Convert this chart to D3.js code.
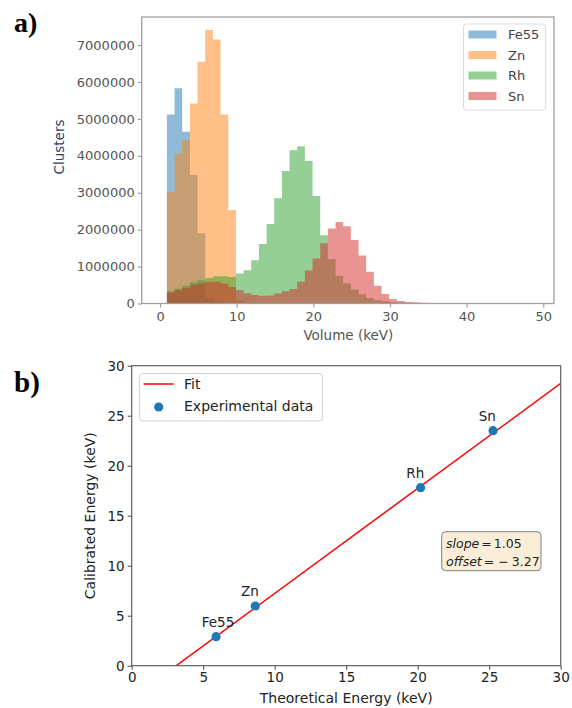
<!DOCTYPE html>
<html>
<head>
<meta charset="utf-8">
<script src="https://cdn.jsdelivr.net/npm/d3@7"></script>
<style>
  body { margin: 0; background: #fff; }
  svg { display: block; font-family: "DejaVu Sans", sans-serif; }
</style>
</head>
<body>
<div id="chart"></div>
<script>
// ---- Panel a) histogram data (clusters per 1 keV bin, bins start at 0.9 keV) ----
const binStart = 0.9;
const binWidth = 1;
const fe55Counts = [5120000, 5830000, 4650000, 3480000, 1900000, 150000, 50000, 20000];
const znCounts = [3020000, 4060000, 4430000, 5420000, 6550000, 7410000, 7150000, 5120000, 2530000, 80000, 30000, 10000];
const rhCounts = [330000, 400000, 480000, 570000, 630000, 690000, 740000, 740000, 720000, 810000,
  900000, 1170000, 1610000, 2150000, 2850000, 3590000, 4150000, 4260000, 3860000, 2910000,
  1850000, 1200000, 750000, 550000, 380000, 250000, 150000, 90000, 60000, 40000,
  30000, 20000, 20000, 10000, 10000, 10000, 10000];
const snCounts = [300000, 360000, 420000, 500000, 540000, 590000, 590000, 540000, 450000, 360000,
  280000, 230000, 210000, 220000, 270000, 330000, 390000, 590000, 900000, 1220000,
  1630000, 2030000, 2210000, 2090000, 1720000, 1300000, 860000, 480000, 260000, 120000,
  70000, 40000, 30000, 20000, 10000, 10000];
const histSeries = [
  {name: "Fe55", counts: fe55Counts, color: "#1f77b4"},
  {name: "Zn", counts: znCounts, color: "#ff7f0e"},
  {name: "Rh", counts: rhCounts, color: "#2ca02c"},
  {name: "Sn", counts: snCounts, color: "#d62728"}
];
const histXTicks = [0, 10, 20, 30, 40, 50];
const histYTicks = [0, 1000000, 2000000, 3000000, 4000000, 5000000, 6000000, 7000000];

// ---- Panel b) calibration data ----
const sources = ["Fe55", "Zn", "Rh", "Sn"];
const theoreticalEnergy = [5.9, 8.64, 20.2, 25.27];
const calibratedEnergy = [2.9, 5.97, 17.8, 23.5];
const fitSlope = 1.05;
const fitOffset = -3.27;
const calXTicks = [0, 5, 10, 15, 20, 25, 30];
const calYTicks = [0, 5, 10, 15, 20, 25, 30];

const width = 572, height = 708;
const svg = d3.select("#chart").append("svg")
  .attr("width", width)
  .attr("height", height);

// panel letters
svg.append("text").attr("x", 14).attr("y", 32)
  .style("font-family", "'Liberation Serif', serif").style("font-weight", "bold")
  .style("font-size", "28px").text("a)");
svg.append("text").attr("x", 14).attr("y", 392)
  .style("font-family", "'Liberation Serif', serif").style("font-weight", "bold")
  .style("font-size", "29px").text("b)");

// ================= Panel a =================
const a = {left: 141.7, right: 554, top: 17, bottom: 303.5};
const ax = d3.scaleLinear().domain([-2.39, 51.4]).range([a.left, a.right]);
const ay = d3.scaleLinear().domain([0, 7760000]).range([a.bottom, a.top]);

const gA = svg.append("g");

// one stepped area per series so bins do not show seams
const stepArea = d3.area()
  .curve(d3.curveStepAfter)
  .x(d => ax(d.x))
  .y0(ay(0))
  .y1(d => ay(d.v));

histSeries.forEach(s => {
  let pts = s.counts.map((v, i) => ({x: binStart + i * binWidth, v: v}));
  pts.push({x: binStart + s.counts.length * binWidth, v: s.counts[s.counts.length - 1]});
  gA.append("path")
    .attr("d", stepArea(pts))
    .attr("fill", s.color)
    .attr("fill-opacity", 0.5);
});

// frame
gA.append("rect")
  .attr("x", a.left).attr("y", a.top)
  .attr("width", a.right - a.left).attr("height", a.bottom - a.top)
  .attr("fill", "none").attr("stroke", "#a0a0a0").attr("stroke-width", 1.3);

const axA = gA.append("g")
  .attr("transform", "translate(0," + a.bottom + ")")
  .call(d3.axisBottom(ax).tickValues(histXTicks).tickSize(4).tickPadding(4));
const ayA = gA.append("g")
  .attr("transform", "translate(" + a.left + ",0)")
  .call(d3.axisLeft(ay).tickValues(histYTicks).tickFormat(d3.format("d")).tickSize(4).tickPadding(3));
[axA, ayA].forEach(g => {
  g.select(".domain").remove();
  g.selectAll(".tick line").attr("stroke", "#a0a0a0").attr("stroke-width", 1.2);
  g.selectAll(".tick text").attr("fill", "#555")
    .style("font-size", "13px").style("font-family", "'DejaVu Sans', sans-serif");
});

gA.append("text")
  .attr("x", (a.left + a.right) / 2 + 0.5).attr("y", 340)
  .style("text-anchor", "middle").style("font-size", "13.5px").attr("fill", "#555")
  .text("Volume (keV)");
gA.append("text")
  .attr("transform", "translate(64,147) rotate(-90)")
  .style("text-anchor", "middle").style("font-size", "13.5px").attr("fill", "#2b4470")
  .text("Clusters");

// legend a
const legA = gA.append("g");
legA.append("rect")
  .attr("x", 463.5).attr("y", 24).attr("width", 82).attr("height", 86)
  .attr("rx", 3).attr("fill", "#fff").attr("stroke", "#dcdcdc");
histSeries.forEach((s, i) => {
  const cy = 34.5 + i * 20.5;
  legA.append("rect")
    .attr("x", 468.5).attr("y", cy - 4).attr("width", 28).attr("height", 8)
    .attr("fill", s.color).attr("fill-opacity", 0.5);
  legA.append("text")
    .attr("x", 508).attr("y", cy + 4.5)
    .style("font-size", "13px").attr("fill", "#444")
    .text(s.name);
});

// ================= Panel b =================
const b = {left: 131.7, right: 560.7, top: 365.7, bottom: 665.7};
const bx = d3.scaleLinear().domain([0, 30]).range([b.left, b.right]);
const by = d3.scaleLinear().domain([0, 30]).range([b.bottom, b.top]);

const gB = svg.append("g");
const clipB = gB.append("clipPath").attr("id", "clipB");
clipB.append("rect")
  .attr("x", b.left).attr("y", b.top)
  .attr("width", b.right - b.left).attr("height", b.bottom - b.top);

// fit line across the whole x range
const fitLine = d3.line()
  .x(d => bx(d))
  .y(d => by(fitSlope * d + fitOffset));
gB.append("path")
  .attr("clip-path", "url(#clipB)")
  .attr("d", fitLine(bx.domain()))
  .attr("fill", "none").attr("stroke", "#ff0000").attr("stroke-width", 1.5);

gB.selectAll("circle.pt")
  .data(sources)
  .enter().append("circle")
  .attr("class", "pt")
  .attr("cx", (d, i) => bx(theoreticalEnergy[i]))
  .attr("cy", (d, i) => by(calibratedEnergy[i]))
  .attr("r", 4.6)
  .attr("fill", "#1f77b4");

// labels placed 1 keV left and 1 keV above each point
gB.selectAll("text.lbl")
  .data(sources)
  .enter().append("text")
  .attr("class", "lbl")
  .attr("x", (d, i) => bx(theoreticalEnergy[i] - 1))
  .attr("y", (d, i) => by(calibratedEnergy[i] + 1))
  .style("font-size", "13.5px").attr("fill", "#222")
  .text(d => d);

gB.append("rect")
  .attr("x", b.left).attr("y", b.top)
  .attr("width", b.right - b.left).attr("height", b.bottom - b.top)
  .attr("fill", "none").attr("stroke", "#555").attr("stroke-width", 1.1);

const axB = gB.append("g")
  .attr("transform", "translate(0," + b.bottom + ")")
  .call(d3.axisBottom(bx).tickValues(calXTicks).tickSize(4).tickPadding(3));
const ayB = gB.append("g")
  .attr("transform", "translate(" + b.left + ",0)")
  .call(d3.axisLeft(by).tickValues(calYTicks).tickSize(4).tickPadding(3));
[axB, ayB].forEach(g => {
  g.select(".domain").remove();
  g.selectAll(".tick line").attr("stroke", "#444");
  g.selectAll(".tick text").attr("fill", "#222")
    .style("font-size", "13.5px").style("font-family", "'DejaVu Sans', sans-serif");
});

gB.append("text")
  .attr("x", (b.left + b.right) / 2).attr("y", 703)
  .style("text-anchor", "middle").style("font-size", "14px").attr("fill", "#222")
  .text("Theoretical Energy (keV)");
gB.append("text")
  .attr("transform", "translate(95," + ((b.top + b.bottom) / 2) + ") rotate(-90)")
  .style("text-anchor", "middle").style("font-size", "14px").attr("fill", "#222")
  .text("Calibrated Energy (keV)");

// legend b
const legB = gB.append("g");
legB.append("rect")
  .attr("x", 139.5).attr("y", 373.5).attr("width", 183).attr("height", 47.5)
  .attr("rx", 3).attr("fill", "#fff").attr("fill-opacity", 0.8).attr("stroke", "#d0d0d0");
legB.append("line")
  .attr("x1", 143.5).attr("x2", 173.5).attr("y1", 384).attr("y2", 384)
  .attr("stroke", "#ff0000").attr("stroke-width", 1.5);
legB.append("text").attr("x", 184).attr("y", 389)
  .style("font-size", "14px").attr("fill", "#222").text("Fit");
legB.append("circle").attr("cx", 158.7).attr("cy", 407).attr("r", 4.6).attr("fill", "#1f77b4");
legB.append("text").attr("x", 184).attr("y", 411)
  .style("font-size", "14px").attr("fill", "#222").text("Experimental data");

// fit parameter box
const infoB = gB.append("g");
infoB.append("rect")
  .attr("x", 441.7).attr("y", 531.7).attr("width", 99.3).attr("height", 39)
  .attr("rx", 4).attr("fill", "rgb(245,222,179)").attr("fill-opacity", 0.5)
  .attr("stroke", "#808080").attr("stroke-width", 1);
const l1 = infoB.append("text").attr("x", 446).attr("y", 548)
  .style("font-size", "12.5px").attr("fill", "#222");
l1.append("tspan").style("font-style", "italic").text("slope");
l1.append("tspan").attr("dx", 2).text("=");
l1.append("tspan").attr("dx", 2).text("1.05");
const l2 = infoB.append("text").attr("x", 446).attr("y", 565.5)
  .style("font-size", "12.5px").attr("fill", "#222");
l2.append("tspan").style("font-style", "italic").text("offset");
l2.append("tspan").attr("dx", 2).text("=");
l2.append("tspan").attr("dx", 4).text("\u2212");
l2.append("tspan").attr("dx", 3).text(Math.abs(fitOffset).toFixed(2));
</script>
</body>
</html>
